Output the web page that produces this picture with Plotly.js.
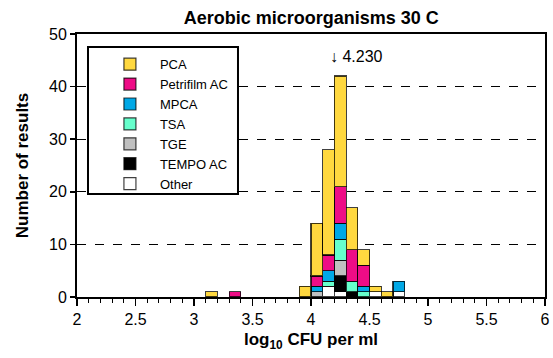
<!DOCTYPE html>
<html><head><meta charset="utf-8">
<script src="https://cdn.plot.ly/plotly-3.0.1.min.js"></script>
<style>html,body{margin:0;padding:0;background:#fff}</style>
</head><body>
<div id="chart" style="width:553px;height:358px"></div>
<script>
const binCenters = [3.15, 3.35, 3.95, 4.05, 4.15, 4.25, 4.35, 4.45, 4.55, 4.65, 4.75];
const pca       = [1, 0, 2, 10, 20, 21, 8, 3, 1, 1, 0];
const petrifilm = [0, 1, 0, 2, 3, 7, 6, 4, 0, 0, 0];
const mpca      = [0, 0, 0, 1, 2, 3, 0, 1, 0, 0, 2];
const tsa       = [0, 0, 0, 0, 1, 4, 2, 1, 0, 0, 0];
const tge       = [0, 0, 0, 1, 0, 3, 0, 0, 0, 0, 0];
const tempo     = [0, 0, 0, 0, 0, 3, 1, 0, 0, 0, 0];
const other     = [0, 0, 0, 0, 2, 1, 0, 0, 1, 0, 1];
const medianValue = 4.230;

const series = [
  {name: 'Other', y: other, color: '#FFFFFF'},
  {name: 'TEMPO AC', y: tempo, color: '#000000'},
  {name: 'TGE', y: tge, color: '#C0C0C0'},
  {name: 'TSA', y: tsa, color: '#66FFCC'},
  {name: 'MPCA', y: mpca, color: '#00A8E6'},
  {name: 'Petrifilm AC', y: petrifilm, color: '#EE0C86'},
  {name: 'PCA', y: pca, color: '#FFD83F'}
];

const traces = series.map(s => ({
  type: 'bar',
  name: s.name,
  x: binCenters,
  y: s.y.map(v => v === 0 ? null : v),
  width: 0.1,
  marker: {color: s.color, line: {color: 'rgba(0,0,0,0.75)', width: 1.2}},
  hoverinfo: 'skip'
}));

const layout = {
  width: 553, height: 358,
  margin: {l: 77, r: 8, t: 34, b: 61},
  paper_bgcolor: '#fff', plot_bgcolor: '#fff',
  font: {family: 'Liberation Sans, Arial, sans-serif', size: 16, color: '#000'},
  title: {text: '<b>Aerobic microorganisms 30 C</b>', x: 0.563, xanchor: 'center', y: 0.968, yanchor: 'top',
          font: {size: 18, color: '#000'}},
  barmode: 'stack', bargap: 0,
  showlegend: true,
  legend: {x: 0.049, y: 0.942, xanchor: 'left', yanchor: 'top',
           borderwidth: 0, bgcolor: 'rgba(0,0,0,0)',
           traceorder: 'reversed', font: {size: 13}, tracegroupgap: 0,
           itemwidth: 50},
  shapes: [{type: 'rect', xref: 'paper', yref: 'paper', x0: 0.0235, x1: 0.344, y0: 0.3916, y1: 0.9506,
            line: {color: '#000', width: 2}, fillcolor: '#fff', layer: 'above'}],
  xaxis: {range: [2, 6], tickvals: [2, 2.5, 3, 3.5, 4, 4.5, 5, 5.5, 6],
          ticktext: ['2', '2.5', '3', '3.5', '4', '4.5', '5', '5.5', '6'],
          ticks: 'outside', ticklen: 7, tickwidth: 1.5, tickcolor: '#000',
          minor: {dtick: 0.1, ticks: 'outside', ticklen: 4, tickwidth: 1, tickcolor: '#000', showgrid: false},
          showline: true, linecolor: '#000', linewidth: 2, mirror: true,
          showgrid: false, zeroline: false,
          tickfont: {size: 16},
          title: {text: '<b>log<sub>10</sub> CFU per ml</b>', font: {size: 17}, standoff: 6}},
  yaxis: {range: [0, 50], dtick: 10,
          ticks: 'outside', ticklen: 5, tickwidth: 1.5, tickcolor: '#000',
          showline: true, linecolor: '#000', linewidth: 2, mirror: true,
          showgrid: true, gridcolor: '#000', griddash: 'dash', gridwidth: 1,
          zeroline: false, tickfont: {size: 16},
          title: {text: '<b>Number of results</b>', font: {size: 17}, standoff: 16}},
  annotations: [{x: medianValue, y: 45.8, xref: 'x', yref: 'y', xanchor: 'left', yanchor: 'middle',
                 xshift: -10, text: '\u2193 ' + medianValue.toFixed(3), showarrow: false,
                 font: {size: 16, color: '#000'}}]
};

Plotly.newPlot('chart', traces, layout, {displayModeBar: false, staticPlot: true});
</script>
</body></html>
